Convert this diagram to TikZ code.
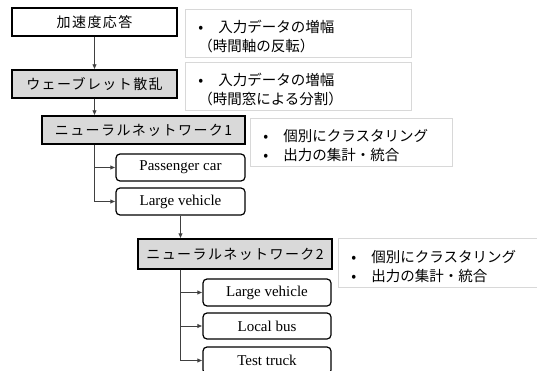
\documentclass[tikz,border=0pt]{standalone}
\usepackage{fontspec}
\setmainfont{Liberation Serif}
\newfontfamily\jpbox[LetterSpace=10]{Noto Sans CJK JP}
\newfontfamily\jpnote{Noto Sans CJK JP}
\usetikzlibrary{arrows.meta}
\definecolor{boxgray}{HTML}{D9D9D9}
\definecolor{notegray}{HTML}{D8D8D8}
\definecolor{linegray}{HTML}{404040}
\tikzset{
  mainbox/.style={draw=black, line width=1.3pt, fill=#1, inner sep=0pt, font=\jpbox\fontsize{14}{16}\selectfont},
  mainbox/.default=white,
  catbox/.style={draw=black, line width=1.2pt, rounded corners=4pt, fill=white, inner sep=0pt, minimum width=129pt, minimum height=27pt, font=\fontsize{15}{17}\selectfont},
  notebox/.style={draw=notegray, line width=0.8pt, fill=white, inner xsep=13pt, inner ysep=0pt, align=left, anchor=north west, font=\jpnote\fontsize{14.5}{19.5}\selectfont},
  conn/.style={draw=linegray, line width=0.8pt, -{Latex[length=5pt,width=4.5pt]}},
  plain/.style={draw=linegray, line width=0.8pt}
}
\newcommand{\bul}{\makebox[20pt][l]{•}}
\newcommand{\tstrut}{\rule{0pt}{19pt}}
\begin{document}
\begin{tikzpicture}[x=1pt,y=-1pt]
\useasboundingbox (0,0) rectangle (537,371);
\clip (0,0) rectangle (537,371);
% main boxes
\node[mainbox, minimum width=165pt, minimum height=28pt] (b1) at (94.5,22) {加速度応答};
\node[mainbox=boxgray, minimum width=165pt, minimum height=28pt] (b2) at (94.5,84) {ウェーブレット散乱};
\node[mainbox=boxgray, minimum width=203pt, minimum height=28pt] (nn1) at (143.5,130) {ニューラルネットワーク1};
\node[catbox] (pc) at (180.5,167.5) {Passenger car};
\node[catbox] (lv1) at (180.5,201.5) {Large vehicle};
\node[mainbox=boxgray, minimum width=194pt, minimum height=30pt] (nn2) at (235,254) {ニューラルネットワーク2};
\node[catbox, minimum width=128pt] (lv2) at (267,292.5) {Large vehicle};
\node[catbox, minimum width=128pt, minimum height=26pt] (lb) at (267,326) {Local bus};
\node[catbox, minimum width=128pt] (tt) at (267,360.5) {Test truck};
% notes
\node[notebox, minimum width=226pt, minimum height=48pt, text width=200pt] (n1) at (185,9) {\tstrut\bul 入力データの増幅\\（時間軸の反転）};
\node[notebox, minimum width=226pt, minimum height=48pt, text width=200pt] (n2) at (185,62) {\tstrut\bul 入力データの増幅\\（時間窓による分割）};
\node[notebox, minimum width=202pt, minimum height=48pt, text width=176pt, font=\jpnote\fontsize{14.5}{19}\selectfont] (n3) at (250,118) {\tstrut\bul 個別にクラスタリング\\\bul 出力の集計・統合};
\node[notebox, minimum width=205pt, minimum height=49pt, text width=179pt, font=\jpnote\fontsize{14.5}{19}\selectfont] (n4) at (338,238) {\tstrut\bul 個別にクラスタリング\\\bul 出力の集計・統合};
% connectors
\draw[conn] (b1.south) -- (b2.north);
\draw[conn] (b2.south) -- (b2.south |- nn1.north);
\coordinate (s1) at (b2.south |- nn1.south);
\draw[conn] (s1) |- (pc.west);
\draw[conn] (s1) |- (lv1.west);
\draw[conn] (lv1.south) -- (lv1.south |- nn2.north);
\coordinate (s2) at (lv1.south |- nn2.south);
\draw[conn] (s2) |- (lv2.west);
\draw[conn] (s2) |- (lb.west);
\draw[conn] (s2) |- (tt.west);
\end{tikzpicture}
\end{document}
